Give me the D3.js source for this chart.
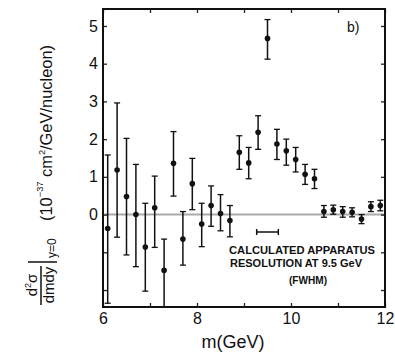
<!DOCTYPE html>
<html><head><meta charset="utf-8">
<script src="https://cdn.jsdelivr.net/npm/d3@7"></script>
<style>body{margin:0;background:#fff}svg{display:block}text{font-family:"Liberation Sans",Arial,sans-serif;fill:#111}</style>
</head><body><svg id="c" width="395" height="354"></svg>
<script>
const mass  = [6.1,6.3,6.5,6.7,6.9,7.1,7.3,7.5,7.7,7.9,8.1,8.3,8.5,8.7,8.9,9.1,9.3,9.5,9.7,9.9,10.1,10.3,10.5,10.7,10.9,11.1,11.3,11.5,11.7,11.9];
const value = [-0.37,1.18,0.48,0.0,-0.86,0.18,-1.48,1.36,-0.65,0.82,-0.25,0.24,0.03,-0.16,1.65,1.37,2.18,4.67,1.87,1.69,1.46,1.07,0.95,0.08,0.13,0.08,0.06,-0.12,0.21,0.24];
const upper = [1.58,2.96,2.02,1.33,0.30,1.02,-0.65,2.20,0.08,1.49,0.30,0.76,0.53,0.24,2.09,1.78,2.62,5.17,2.26,2.00,1.78,1.33,1.20,0.24,0.25,0.21,0.18,0.00,0.34,0.38];
const lower = [-2.35,-0.60,-1.07,-1.38,-2.03,-0.87,-2.45,0.49,-1.34,0.13,-0.85,-0.31,-0.43,-0.59,1.20,0.95,1.73,4.12,1.46,1.31,1.13,0.80,0.69,-0.07,0.01,-0.07,-0.06,-0.24,0.08,0.10];
const xTicks = [6,7,8,9,10,11,12];
const xTickLabels = {6:"6",8:"8",10:"10",12:"12"};
const yTicks = [-2,-1,0,1,2,3,4,5];
const yTickLabels = {0:"0",1:"1",2:"2",3:"3",4:"4",5:"5"};
const resolution = {center:9.5, half:0.23};
const noteLines = ["CALCULATED APPARATUS","RESOLUTION AT 9.5 GeV","(FWHM)"];

const svg = d3.select("#c");
const L=103, R=385, T=9, B=307;
const x = d3.scaleLinear().domain([6,12]).range([L,R]);
const y = d3.scaleLinear().domain([-2.45,5.45]).range([B,T]);

// zero line
svg.append("line").attr("x1",L).attr("x2",R).attr("y1",y(0)).attr("y2",y(0))
  .attr("stroke","#aaa").attr("stroke-width",2);

// axes
const fmtX = d=>xTickLabels[d]||"";
const fmtY = d=>yTickLabels[d]||"";
const gB = svg.append("g").attr("transform",`translate(0,${B})`)
  .call(d3.axisBottom(x).tickValues(xTicks).tickFormat(fmtX).tickSizeInner(-4).tickSizeOuter(0).tickPadding(6));
const gT = svg.append("g").attr("transform",`translate(0,${T})`)
  .call(d3.axisTop(x).tickValues(xTicks).tickFormat("").tickSizeInner(-4).tickSizeOuter(0));
const gL = svg.append("g").attr("transform",`translate(${L},0)`)
  .call(d3.axisLeft(y).tickValues(yTicks).tickFormat(fmtY).tickSizeInner(-4).tickSizeOuter(0).tickPadding(5));
const gR = svg.append("g").attr("transform",`translate(${R},0)`)
  .call(d3.axisRight(y).tickValues(yTicks).tickFormat("").tickSizeInner(-4).tickSizeOuter(0));
[gB,gT,gL,gR].forEach(g=>{
  g.select(".domain").remove();
  g.selectAll(".tick line").attr("stroke","#222").attr("stroke-width",1.3);
  g.selectAll("text").style("font-size","16px").attr("fill","#111");
});
// frame
svg.append("rect").attr("x",L).attr("y",T).attr("width",R-L).attr("height",B-T)
  .attr("fill","none").attr("stroke","#111").attr("stroke-width",2);

// error bars
const pts = mass.map((m,i)=>({m,v:value[i],hi:upper[i],lo:lower[i]}));
const g = svg.append("g");
g.selectAll("line.eb").data(pts).join("line").attr("class","eb")
  .attr("x1",d=>x(d.m)).attr("x2",d=>x(d.m)).attr("y1",d=>y(d.hi)).attr("y2",d=>y(d.lo))
  .attr("stroke","#111").attr("stroke-width",1.5);
g.selectAll("line.cu").data(pts).join("line").attr("class","cu")
  .attr("x1",d=>x(d.m)-3).attr("x2",d=>x(d.m)+3).attr("y1",d=>y(d.hi)).attr("y2",d=>y(d.hi))
  .attr("stroke","#111").attr("stroke-width",1.3);
g.selectAll("line.cl").data(pts.filter(d=>d.lo>-2.4)).join("line").attr("class","cl")
  .attr("x1",d=>x(d.m)-3).attr("x2",d=>x(d.m)+3).attr("y1",d=>y(d.lo)).attr("y2",d=>y(d.lo))
  .attr("stroke","#111").attr("stroke-width",1.3);
g.selectAll("circle").data(pts).join("circle")
  .attr("cx",d=>x(d.m)).attr("cy",d=>y(d.v)).attr("r",2.8).attr("fill","#111");

// resolution bar
const ry = 232;
const x1 = x(resolution.center-resolution.half), x2 = x(resolution.center+resolution.half);
svg.append("line").attr("x1",x1).attr("x2",x2).attr("y1",ry).attr("y2",ry).attr("stroke","#111").attr("stroke-width",1.5);
[x1,x2].forEach(xx=>svg.append("line").attr("x1",xx).attr("x2",xx).attr("y1",ry-3).attr("y2",ry+3).attr("stroke","#111").attr("stroke-width",1.5));
const noteX=[302,296,308], noteY=[254,267,284], noteW=[146,132,38];
noteLines.forEach((t,i)=>svg.append("text").attr("x",noteX[i]).attr("y",noteY[i]).attr("text-anchor","middle")
  .attr("textLength",noteW[i]).attr("lengthAdjust","spacingAndGlyphs")
  .style("font-size","11px").style("font-weight","bold").text(t));

svg.append("text").attr("x",347).attr("y",32).style("font-size","14px").text("b)");

// x label
svg.append("text").attr("x",233).attr("y",348).attr("text-anchor","middle").style("font-size","18px").text("m(GeV)");

// y label (rotated)
const yl = svg.append("g").attr("transform","rotate(-90)");
yl.append("text").attr("x",-285).attr("y",37).attr("text-anchor","middle").style("font-size","15px")
  .html('d<tspan dy="-6" font-size="9px">2</tspan><tspan dy="6">σ</tspan>');
yl.append("line").attr("x1",-305).attr("x2",-266).attr("y1",41).attr("y2",41).attr("stroke","#111").attr("stroke-width",1.5);
yl.append("text").attr("x",-285).attr("y",54).attr("text-anchor","middle").style("font-size","15px").text("dmdy");
yl.append("line").attr("x1",-262).attr("x2",-262).attr("y1",28).attr("y2",57).attr("stroke","#111").attr("stroke-width",1.5);
yl.append("text").attr("x",-258).attr("y",56).style("font-size","12px").text("y=0");
yl.append("text").attr("x",-221).attr("y",52).style("font-size","16px").attr("textLength",176).attr("lengthAdjust","spacingAndGlyphs")
  .html('(10<tspan dy="-9" font-size="9px">−37</tspan><tspan dy="9"> cm</tspan><tspan dy="-7" font-size="9px">2</tspan><tspan dy="7">/GeV/nucleon)</tspan>');
</script></body></html>
